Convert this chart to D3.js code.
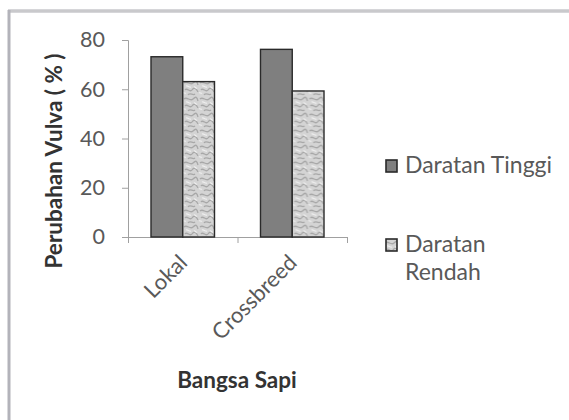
<!DOCTYPE html>
<html>
<head>
<meta charset="utf-8">
<script src="https://cdn.jsdelivr.net/npm/d3@7/dist/d3.min.js"></script>
<style>
  html, body { margin: 0; padding: 0; background: #fff; }
  svg { display: block; }
  text { font-family: Lato, "Open Sans", sans-serif; }
</style>
</head>
<body>
<svg id="chart" width="569" height="420"></svg>
<script>
// Breeds on the x axis and the two lowland/highland series
const categories = ["Lokal", "Crossbreed"];
const seriesNames = ["Daratan Tinggi", "Daratan Rendah"];
const daratanTinggi = [73.2, 76.2];
const daratanRendah = [63.1, 59.3];
const yTicks = [0, 20, 40, 60, 80];

const svg = d3.select("#chart");
const W = 569, H = 420;

// outer frame (top and left edges of the chart area)
svg.append("rect").attr("x", 0).attr("y", 0).attr("width", W).attr("height", H).attr("fill", "#fff");
svg.append("line").attr("x1", 8).attr("x2", W).attr("y1", 11).attr("y2", 11)
  .attr("stroke", "#c9c9cc").attr("stroke-width", 3.5);
svg.append("line").attr("x1", 9).attr("x2", 9).attr("y1", 10).attr("y2", H)
  .attr("stroke", "#b3b3ba").attr("stroke-width", 3);

// texture for the lowland bars
const defs = svg.append("defs");
const pat = defs.append("pattern").attr("id", "mottle")
  .attr("patternUnits", "userSpaceOnUse").attr("width", 16).attr("height", 16);
pat.append("rect").attr("width", 16).attr("height", 16).attr("fill", "#d4d4d4");
pat.append("path")
  .attr("d", "M1,3 C4,0 7,6 10,3 S14,1 15,5 M2,10 C4,7 7,13 9,10 S13,8 15,12 M5,15 C7,12 10,16 12,14")
  .attr("fill", "none").attr("stroke", "#a8a8a8").attr("stroke-width", 1.3);
pat.append("path")
  .attr("d", "M3,6 C5,5 6,8 8,7 M11,7 C12,6 13,9 14,8 M0,13 C1,12 2,14 3,13")
  .attr("fill", "none").attr("stroke", "#efefef").attr("stroke-width", 1.2);

const plot = { left: 128, right: 347, top: 40, bottom: 237 };

const x0 = d3.scaleBand().domain(categories).range([plot.left, plot.right]).paddingInner(0.42).paddingOuter(0.21);
const x1 = d3.scaleBand().domain(seriesNames).range([0, x0.bandwidth()]);
const y = d3.scaleLinear().domain([0, 80]).range([plot.bottom, plot.top]);

const axisColor = "#a0a0a0";
const textColor = "#595959";

// y axis
const yAxis = svg.append("g").attr("transform", `translate(${plot.left},0)`)
  .call(d3.axisLeft(y).tickValues(yTicks).tickSize(6).tickPadding(17));
yAxis.select(".domain").attr("stroke", axisColor);
yAxis.selectAll(".tick line").attr("stroke", axisColor);
yAxis.selectAll(".tick text").attr("fill", textColor).attr("font-size", 21.5);

// x axis: ticks at the category boundaries
const boundaries = [plot.left, (plot.left + plot.right) / 2, plot.right];
svg.append("line").attr("x1", plot.left).attr("x2", plot.right)
  .attr("y1", plot.bottom + 0.5).attr("y2", plot.bottom + 0.5).attr("stroke", axisColor);
svg.selectAll(".xtick").data(boundaries).join("line").attr("class", "xtick")
  .attr("x1", d => d + 0.5).attr("x2", d => d + 0.5)
  .attr("y1", plot.bottom).attr("y2", plot.bottom + 6).attr("stroke", axisColor);

// bars
const rows = categories.map((c, i) => ({ cat: c, values: [daratanTinggi[i], daratanRendah[i]] }));
const fills = ["#7f7f7f", "url(#mottle)"];
const groups = svg.selectAll(".grp").data(rows).join("g").attr("class", "grp")
  .attr("transform", d => `translate(${x0(d.cat)},0)`);
groups.selectAll("rect").data(d => d.values.map((v, j) => ({ v, j })))
  .join("rect")
  .attr("x", d => x1(seriesNames[d.j]))
  .attr("y", d => y(d.v))
  .attr("width", x1.bandwidth())
  .attr("height", d => y(0) - y(d.v))
  .attr("fill", d => fills[d.j])
  .attr("stroke", "#2a2a2a").attr("stroke-width", 1.4);

// category labels, slanted
svg.selectAll(".xlab").data(categories).join("text").attr("class", "xlab")
  .attr("transform", d => `translate(${x0(d) + x0.bandwidth() / 2 + 6},${plot.bottom + 27}) rotate(-45)`)
  .attr("text-anchor", "end")
  .attr("fill", textColor).attr("font-size", 22)
  .text(d => d);

// axis titles
svg.append("text")
  .attr("transform", `translate(62,161) rotate(-90)`)
  .attr("text-anchor", "middle").attr("font-weight", "bold")
  .attr("fill", "#333").attr("font-size", 22.5)
  .text("Perubahan Vulva ( % )");
svg.append("text")
  .attr("x", 237).attr("y", 388)
  .attr("text-anchor", "middle").attr("font-weight", "bold")
  .attr("fill", "#333").attr("font-size", 22.5)
  .text("Bangsa Sapi");

// legend
const legend = [
  { lines: ["Daratan Tinggi"], fill: fills[0], y: 173 },
  { lines: ["Daratan", "Rendah"], fill: fills[1], y: 252 }
];
const lg = svg.selectAll(".leg").data(legend).join("g").attr("class", "leg");
lg.append("rect").attr("x", 386).attr("y", d => d.y - 13).attr("width", 11).attr("height", 12)
  .attr("fill", d => d.fill).attr("stroke", "#2a2a2a").attr("stroke-width", 1.6);
lg.append("text").attr("x", 405).attr("y", d => d.y)
  .attr("fill", textColor).attr("font-size", 23)
  .selectAll("tspan").data(d => d.lines).join("tspan")
  .attr("x", 405).attr("dy", (d, i) => i === 0 ? 0 : 28)
  .text(d => d);
</script>
</body>
</html>
